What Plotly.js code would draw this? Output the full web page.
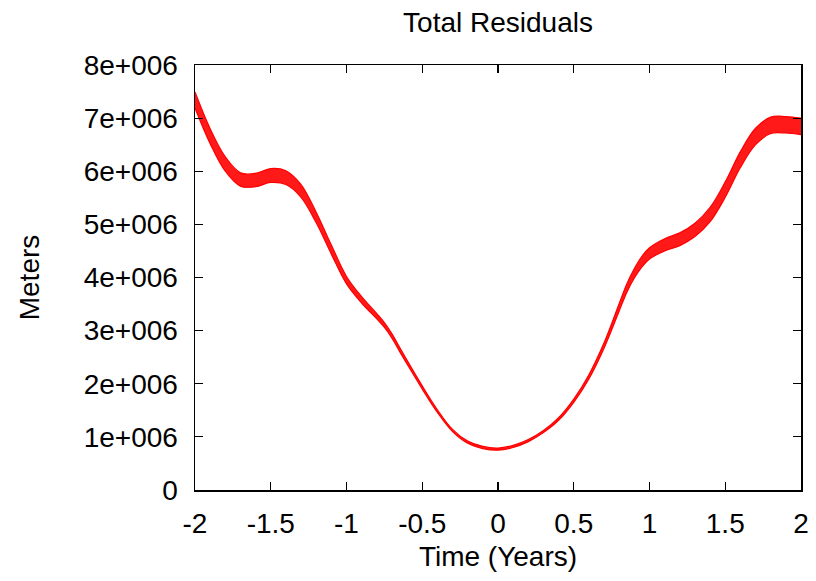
<!DOCTYPE html>
<html>
<head>
<meta charset="utf-8">
<script src="https://cdn.plot.ly/plotly-3.0.1.min.js"></script>
<style>
  html, body { margin: 0; padding: 0; background: #ffffff; }
  #chart { width: 816px; height: 581px; }
</style>
</head>
<body>
<div id="chart"></div>
<script>
// Time in years (sample positions)
const timeYears = [-2.0, -1.9, -1.8, -1.7, -1.6, -1.5, -1.4, -1.3, -1.2, -1.1,
                   -1.0, -0.9, -0.8, -0.75, -0.7, -0.65, -0.6, -0.5, -0.4, -0.3, -0.2, -0.1,
                    0.0,  0.1,  0.2,  0.3,  0.4,  0.5,  0.6,  0.7,  0.8, 0.85, 0.9, 0.95,
                    1.0,  1.1,  1.2,  1.3,  1.4,  1.5,  1.6,  1.7,  1.8,  1.9, 2.0];

// Upper envelope of the oscillating residual band (meters)
const residualUpper = [7.49e6, 6.80e6, 6.27e6, 5.97e6, 5.96e6, 6.05e6, 6.01e6, 5.75e6, 5.23e6, 4.61e6,
                       4.02e6, 3.64e6, 3.32e6, 3.15e6, 2.94e6, 2.69e6, 2.44e6, 1.96e6, 1.51e6, 1.14e6, 0.92e6, 0.82e6,
                       0.79e6, 0.84e6, 0.95e6, 1.12e6, 1.36e6, 1.71e6, 2.17e6, 2.77e6, 3.51e6, 3.88e6, 4.17e6, 4.40e6,
                       4.56e6, 4.73e6, 4.84e6, 5.02e6, 5.32e6, 5.80e6, 6.37e6, 6.81e6, 7.02e6, 7.03e6, 7.00e6];

// Lower envelope of the oscillating residual band (meters)
const residualLower = [7.19e6, 6.52e6, 6.00e6, 5.72e6, 5.71e6, 5.79e6, 5.75e6, 5.51e6, 5.03e6, 4.44e6,
                       3.88e6, 3.52e6, 3.22e6, 3.06e6, 2.86e6, 2.61e6, 2.37e6, 1.90e6, 1.46e6, 1.10e6, 0.88e6, 0.78e6,
                       0.75e6, 0.80e6, 0.91e6, 1.08e6, 1.31e6, 1.65e6, 2.09e6, 2.67e6, 3.37e6, 3.72e6, 3.99e6, 4.20e6,
                       4.35e6, 4.50e6, 4.60e6, 4.77e6, 5.05e6, 5.51e6, 6.07e6, 6.50e6, 6.71e6, 6.72e6, 6.69e6];

const xTickVals = [-2, -1.5, -1, -0.5, 0, 0.5, 1, 1.5, 2];
const xTickText = ["-2", "-1.5", "-1", "-0.5", "0", "0.5", "1", "1.5", "2"];
const yTickVals = [0, 1e6, 2e6, 3e6, 4e6, 5e6, 6e6, 7e6, 8e6];
const yTickText = ["0", "1e+006", "2e+006", "3e+006", "4e+006", "5e+006", "6e+006", "7e+006", "8e+006"];

const FONT = "Liberation Sans, Arial, Helvetica, sans-serif";
const RED = "rgb(255,0,0)";

const traces = [
  {
    x: timeYears, y: residualLower, type: "scatter", mode: "lines",
    line: { color: RED, width: 1.2, shape: "spline", smoothing: 1 },
    hoverinfo: "skip", showlegend: false
  },
  {
    x: timeYears, y: residualUpper, type: "scatter", mode: "lines",
    line: { color: RED, width: 1.2, shape: "spline", smoothing: 1 },
    fill: "tonexty", fillcolor: "rgba(255,0,0,0.9)",
    name: "Total Residuals", showlegend: false
  }
];

const axisCommon = {
  showline: true, linecolor: "#000000", linewidth: 1.5,
  mirror: "allticks", ticks: "inside", ticklen: 8, tickwidth: 1.2, tickcolor: "#000000",
  showgrid: false, zeroline: false,
  tickfont: { family: FONT, size: 28, color: "#000000" }
};

const layout = {
  width: 816, height: 581,
  paper_bgcolor: "#ffffff", plot_bgcolor: "#ffffff",
  margin: { l: 195, r: 15, t: 65, b: 91, pad: 0 },
  title: {
    text: "Total Residuals",
    font: { family: FONT, size: 28, color: "#000000" },
    xref: "paper", x: 0.5, xanchor: "center",
    yref: "container", y: 0.962, yanchor: "middle"
  },
  xaxis: Object.assign({}, axisCommon, {
    range: [-2, 2], tickmode: "array", tickvals: xTickVals, ticktext: xTickText,
    ticklabelstandoff: 8,
    title: { text: "Time (Years)", font: { family: FONT, size: 28, color: "#000000" }, standoff: 8 }
  }),
  yaxis: Object.assign({}, axisCommon, {
    range: [0, 8e6], tickmode: "array", tickvals: yTickVals, ticktext: yTickText,
    ticklabelstandoff: 10,
    title: { text: "Meters", font: { family: FONT, size: 28, color: "#000000" }, standoff: 36 }
  })
};

Plotly.newPlot("chart", traces, layout, { displayModeBar: false, staticPlot: true });
</script>
</body>
</html>
